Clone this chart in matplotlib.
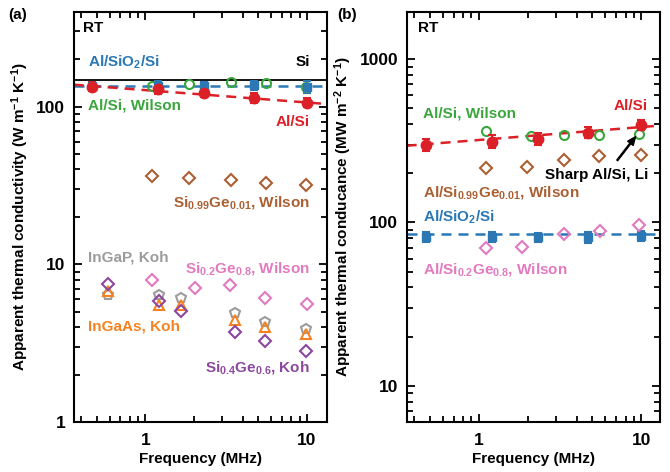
#Apparent thermal conductivity / conductance vs frequency, two panels

import numpy as np
import matplotlib
matplotlib.use("Agg")
import matplotlib.pyplot as plt
from matplotlib.ticker import LogLocator, FuncFormatter, NullFormatter

plt.rcParams['font.family'] = ['Liberation Sans', 'DejaVu Sans']
plt.rcParams['font.weight'] = 'bold'
plt.rcParams['mathtext.fontset'] = 'custom'
plt.rcParams['mathtext.rm'] = 'Liberation Sans:bold'
plt.rcParams['mathtext.it'] = 'Liberation Sans:bold'
plt.rcParams['mathtext.bf'] = 'Liberation Sans:bold'

#colors
c_blue = '#2b78b5'
c_red = '#dc2027'
c_green = '#3aa63c'
c_brown = '#ab6034'
c_pink = '#e27ac0'
c_gray = '#9c9c9c'
c_orange = '#f58220'
c_purple = '#8c489e'

# ---------------- panel (a) data ----------------
f_meas = [0.47, 1.2, 2.3, 4.7, 10]
k_sio2 = [136, 136, 136, 137, 134]
k_sio2_err = [8, 9, 7, 9, 12]
k_alsi = [134, 129, 123, 114, 106]
k_alsi_err = [9, 9, 8, 8, 7]
k_si = 148
k_sio2_line = 136
fit_a_f = [0.36, 13.3]
fit_a_k = [138, 104]

f_wilson_a = [1.1, 1.85, 3.37, 5.6, 9.8]
k_alsi_wilson = [136, 140, 144, 142, 133]
k_sige99_wilson = [36.6, 35.4, 34.5, 32.8, 31.9]

f_sige28_a = [1.1, 2.04, 3.33, 5.5, 10]
k_sige28_wilson = [7.9, 7.1, 7.4, 6.1, 5.6]

f_koh = [0.587, 1.21, 1.65, 3.57, 5.5, 9.8]
k_ingap = [6.4, 6.4, 6.1, 4.9, 4.3, 3.9]
k_ingaas = [6.75, 5.5, 5.55, 4.45, 4.0, 3.6]
k_sige46 = [7.55, 5.85, 5.05, 3.7, 3.26, 2.82]

# ---------------- panel (b) data ----------------
G_alsi = [299, 313, 324, 355, 396]
G_alsi_err = [26, 28, 28, 28, 30]
fit_b_f = [0.36, 13]
fit_b_G = [295, 392]
G_sio2 = [82, 82, 81, 81, 83]
G_sio2_err = [6, 6, 5, 6, 6]
G_sio2_line = 84.5

f_wilson_b = [1.11, 2.08, 3.34, 5.47, 9.7]
G_alsi_wilson = [364, 338, 344, 344, 347]
f_sige99_b = [1.11, 1.98, 3.34, 5.47, 9.9]
G_sige99_wilson = [215, 220, 242, 257, 260]
f_sige28_b = [1.11, 1.84, 3.34, 5.55, 9.7]
G_sige28_wilson = [70.2, 70.8, 84.5, 88.6, 96.6]

fig = plt.figure(figsize=(6.7, 4.72), dpi=100)
ax1 = fig.add_axes([0.110, 0.106, 0.378, 0.869])
ax2 = fig.add_axes([0.607, 0.106, 0.378, 0.869])

dash = (0, (4, 2.8))

def style_axis(ax):
    ax.set_xscale('log')
    ax.set_yscale('log')
    for sp in ax.spines.values():
        sp.set_linewidth(1.5)
    ax.tick_params(which='both', direction='in', top=True, right=True, width=1.3, labelsize=12.5)
    ax.tick_params(which='major', length=6)
    ax.tick_params(axis='x', which='major', pad=8)
    ax.tick_params(axis='y', which='major', pad=6)
    ax.tick_params(which='minor', length=4)
    fmt = FuncFormatter(lambda v, p: '%g' % v)
    ax.xaxis.set_major_locator(LogLocator(base=10))
    ax.xaxis.set_minor_locator(LogLocator(base=10, subs=np.arange(2, 10)))
    ax.xaxis.set_major_formatter(fmt)
    ax.xaxis.set_minor_formatter(NullFormatter())
    ax.yaxis.set_major_locator(LogLocator(base=10))
    ax.yaxis.set_minor_locator(LogLocator(base=10, subs=np.arange(2, 10)))
    ax.yaxis.set_major_formatter(fmt)
    ax.yaxis.set_minor_formatter(NullFormatter())
    ax.set_xlabel('Frequency (MHz)', fontsize=11, fontweight='bold', labelpad=3)

ms_d = 6.5
# ---------------- panel (a) ----------------
ax1.axhline(k_si, color='black', lw=1.3)
ax1.axhline(k_sio2_line, color=c_blue, lw=1.8, ls=dash)
ax1.plot(fit_a_f, fit_a_k, color=c_red, lw=1.8, ls=dash)
ax1.errorbar(f_meas, k_sio2, yerr=k_sio2_err, fmt='s', color=c_blue, ms=6, capsize=3, elinewidth=1.5, capthick=1.5)
ax1.errorbar(f_meas, k_alsi, yerr=k_alsi_err, fmt='o', color=c_red, ms=7.5, capsize=3, elinewidth=1.5, capthick=1.5)
ax1.plot(f_wilson_a, k_alsi_wilson, 'o', mfc='none', mec=c_green, mew=1.5, ms=6.5)
ax1.plot(f_wilson_a, k_sige99_wilson, 'D', mfc='none', mec=c_brown, mew=1.5, ms=ms_d)
ax1.plot(f_sige28_a, k_sige28_wilson, 'D', mfc='none', mec=c_pink, mew=1.5, ms=ms_d)
ax1.plot(f_koh, k_ingap, 'p', mfc='none', mec=c_gray, mew=1.5, ms=7.5)
ax1.plot(f_koh, k_ingaas, '^', mfc='none', mec=c_orange, mew=1.5, ms=7.5)
ax1.plot(f_koh, k_sige46, 'D', mfc='none', mec=c_purple, mew=1.5, ms=ms_d)

ax1.set_xlim(0.36, 13.3)
ax1.set_ylim(1, 400)
style_axis(ax1)
ax1.set_ylabel('Apparent thermal conductivity (W m$^{-1}$ K$^{-1}$)', fontsize=11, fontweight='bold', labelpad=4)

tk = dict(fontsize=11, fontweight='bold', va='center', transform=ax1.transAxes)
ax1.text(0.036, 0.961, 'RT', color='black', **tk)
ax1.text(0.055, 0.878, 'Al/SiO$_2$/Si', color=c_blue, **tk)
ax1.text(0.933, 0.878, 'Si', color='black', ha='right', **tk)
ax1.text(0.055, 0.771, 'Al/Si, Wilson', color=c_green, **tk)
ax1.text(0.933, 0.732, 'Al/Si', color=c_red, ha='right', **tk)
ax1.text(0.933, 0.534, 'Si$_{0.99}$Ge$_{0.01}$, Wilson', color=c_brown, ha='right', **tk)
ax1.text(0.055, 0.402, 'InGaP, Koh', color=c_gray, **tk)
ax1.text(0.933, 0.373, 'Si$_{0.2}$Ge$_{0.8}$, Wilson', color=c_pink, ha='right', **tk)
ax1.text(0.055, 0.232, 'InGaAs, Koh', color=c_orange, **tk)
ax1.text(0.933, 0.134, 'Si$_{0.4}$Ge$_{0.6}$, Koh', color=c_purple, ha='right', **tk)

# ---------------- panel (b) ----------------
ax2.axhline(G_sio2_line, color=c_blue, lw=1.8, ls=dash)
ax2.plot(fit_b_f, fit_b_G, color=c_red, lw=1.8, ls=dash)
ax2.errorbar(f_meas, G_sio2, yerr=G_sio2_err, fmt='s', color=c_blue, ms=6, capsize=3, elinewidth=1.5, capthick=1.5)
ax2.plot(f_wilson_b, G_alsi_wilson, 'o', mfc='none', mec=c_green, mew=1.5, ms=6.5)
ax2.plot(f_sige99_b, G_sige99_wilson, 'D', mfc='none', mec=c_brown, mew=1.5, ms=ms_d)
ax2.plot(f_sige28_b, G_sige28_wilson, 'D', mfc='none', mec=c_pink, mew=1.5, ms=ms_d)
ax2.errorbar(f_meas, G_alsi, yerr=G_alsi_err, fmt='o', color=c_red, ms=7.5, capsize=3, elinewidth=1.5, capthick=1.5)

ax2.annotate('', xy=(9.2, 335), xycoords='data', xytext=(7.1, 240), textcoords='data',
             arrowprops=dict(facecolor='black', edgecolor='black', width=0.8, headwidth=5, headlength=6, shrink=0.0))

ax2.set_xlim(0.36, 13)
ax2.set_ylim(6, 1950)
style_axis(ax2)
ax2.set_ylabel('Apparent thermal conducance (MW m$^{-2}$ K$^{-1}$)', fontsize=11, fontweight='bold', labelpad=4)

tk = dict(fontsize=11, fontweight='bold', va='center', transform=ax2.transAxes)
ax2.text(0.043, 0.961, 'RT', color='black', **tk)
ax2.text(0.063, 0.751, 'Al/Si, Wilson', color=c_green, **tk)
ax2.text(0.953, 0.771, 'Al/Si', color=c_red, ha='right', **tk)
ax2.text(0.953, 0.602, 'Sharp Al/Si, Li', color='black', ha='right', **tk)
ax2.text(0.063, 0.559, 'Al/Si$_{0.99}$Ge$_{0.01}$, Wilson', color=c_brown, **tk)
ax2.text(0.063, 0.500, 'Al/SiO$_2$/Si', color=c_blue, **tk)
ax2.text(0.063, 0.371, 'Al/Si$_{0.2}$Ge$_{0.8}$, Wilson', color=c_pink, **tk)

#panel labels
fig.text(0.012, 0.968, '(a)', fontsize=11, fontweight='bold', va='center')
fig.text(0.503, 0.968, '(b)', fontsize=11, fontweight='bold', va='center')

fig.savefig('out.png', dpi=100)
